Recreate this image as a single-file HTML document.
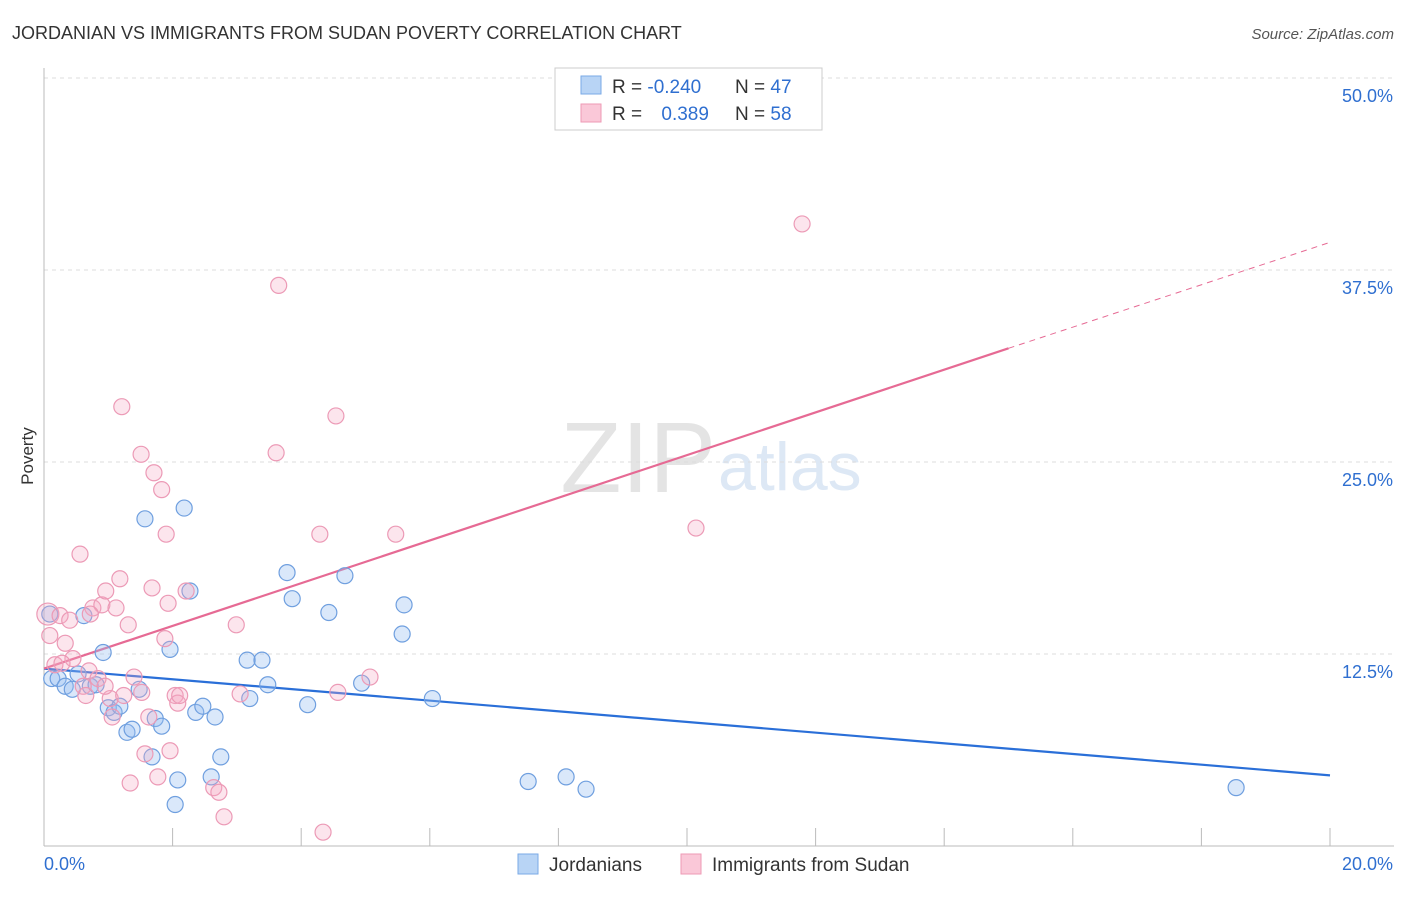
<!DOCTYPE html>
<html><head><meta charset="utf-8"><style>
body{margin:0;background:#fff;font-family:"Liberation Sans",sans-serif}
svg text{font-family:"Liberation Sans",sans-serif}
</style></head><body>
<svg id="c" width="1406" height="892" xmlns="http://www.w3.org/2000/svg">
<text x="12" y="39" font-size="18" fill="#333">JORDANIAN VS IMMIGRANTS FROM SUDAN POVERTY CORRELATION CHART</text>
<text x="1394" y="39" font-size="15" fill="#555" font-style="italic" text-anchor="end">Source: ZipAtlas.com</text>
<text x="716" y="492" font-size="100" fill="#e4e4e4" text-anchor="end" font-family="Liberation Serif">ZIP</text>
<text x="718" y="490" font-size="68" fill="#dde8f5">atlas</text>
<text x="33" y="456" font-size="17" fill="#333" transform="rotate(-90 33 456)" text-anchor="middle">Poverty</text>
<g id="grid"></g><g id="axes"></g><g id="lines"></g><g id="pts"></g>
<g>
<rect x="555" y="68" width="267" height="62" fill="#fff" stroke="#ccc"/>
<rect x="581" y="76" width="20" height="18" fill="#b8d4f5" stroke="#7aaae6"/>
<rect x="581" y="104" width="20" height="18" fill="#fac8d8" stroke="#ee9ab5"/>
<text x="612" y="93" font-size="19" fill="#333">R = <tspan fill="#2f6fd0">-0.240</tspan></text>
<text x="735" y="93" font-size="19" fill="#333">N = <tspan fill="#2f6fd0">47</tspan></text>
<text x="612" y="120" font-size="19" fill="#333">R = <tspan fill="#2f6fd0" dx="14">0.389</tspan></text>
<text x="735" y="120" font-size="19" fill="#333">N = <tspan fill="#2f6fd0">58</tspan></text>
</g>
<g>
<rect x="518" y="854" width="20" height="20" fill="#b8d4f5" stroke="#7aaae6"/>
<text x="549" y="871" font-size="19" fill="#333">Jordanians</text>
<rect x="681" y="854" width="20" height="20" fill="#fac8d8" stroke="#ee9ab5"/>
<text x="712" y="871" font-size="19" fill="#333">Immigrants from Sudan</text>
</g>
</svg>
<script>
const yTicks=[12.5,25,37.5,50];
const yTickLabels=["12.5%","25.0%","37.5%","50.0%"];
const xTickVals=[0,2,4,6,8,10,12,14,16,18,20];
const blueX=[0.12,0.22,0.33,0.44,0.53,0.62,0.72,0.81,0.92,1.0,1.09,1.18,1.29,1.37,1.48,1.57,1.68,1.73,1.83,1.96,2.08,2.04,2.18,2.27,2.36,2.47,2.6,2.66,2.75,3.16,3.2,3.39,3.48,3.78,3.86,4.1,4.43,4.68,4.94,5.57,5.6,6.04,7.53,8.12,8.43,18.54,0.09];
const blueY=[10.9,10.9,10.4,10.2,11.2,15.0,10.4,10.5,12.6,9.0,8.7,9.1,7.4,7.6,10.2,21.3,5.8,8.3,7.8,12.8,4.3,2.7,22.0,16.6,8.7,9.1,4.5,8.4,5.8,12.1,9.6,12.1,10.5,17.8,16.1,9.2,15.2,17.6,10.6,13.8,15.7,9.6,4.2,4.5,3.7,3.8,15.1];
const pinkX=[0.06,0.09,0.17,0.25,0.33,0.4,0.45,0.56,0.61,0.65,0.7,0.76,0.84,0.9,0.96,1.03,1.06,1.12,1.18,1.21,1.31,1.24,1.34,1.4,1.51,1.57,1.63,1.71,1.68,1.77,1.83,1.9,1.93,1.88,1.96,2.04,2.08,2.11,2.21,2.64,2.72,2.8,2.99,3.05,3.61,3.65,4.29,4.34,4.54,4.57,5.07,5.47,10.14,11.79,0.95,0.72,1.52,0.28];
const pinkY=[15.1,13.7,11.8,15.0,13.2,14.7,12.2,19.0,10.4,9.8,11.4,15.5,10.9,15.7,16.6,9.6,8.4,15.5,17.4,28.6,14.4,9.8,4.1,11.0,25.5,6.0,8.4,24.3,16.8,4.5,23.2,20.3,15.8,13.5,6.2,9.8,9.3,9.8,16.6,3.8,3.5,1.9,14.4,9.9,25.6,36.5,20.3,0.9,28.0,10.0,11.0,20.3,20.7,40.5,10.4,15.1,10.0,11.9];
const blueLine=[[0,11.55],[20,4.6]];
const pinkLine=[[0,11.55],[15,32.4],[20,39.3]];
const X=v=>44+v*64.3, Y=v=>846-v*15.36;
const NS="http://www.w3.org/2000/svg";
function mk(p,t,a){const e=document.createElementNS(NS,t);for(const k in a)e.setAttribute(k,a[k]);document.getElementById(p).appendChild(e);return e;}
yTicks.forEach((v,i)=>{
 const l=mk('grid','line',{x1:44,x2:1394,y1:Y(v),y2:Y(v),stroke:'#ddd','stroke-dasharray':'4,4'});
 
 
 const t=mk('grid','text',{x:1393,y:Y(v)+24,'font-size':18,fill:'#2f6fd0','text-anchor':'end'});
 t.textContent=yTickLabels[i];
 
 
});
let a=mk('axes','line',{x1:44,x2:44,y1:68,y2:846,stroke:'#bbb'});


a=mk('axes','line',{x1:44,x2:1394,y1:846,y2:846,stroke:'#bbb'});


xTickVals.forEach(v=>{const t=mk('axes','line',{x1:X(v),x2:X(v),y1:828,y2:846,stroke:'#bbb'});
 
 });
let t=mk('axes','text',{x:44,y:870,'font-size':18,fill:'#2f6fd0'});t.textContent='0.0%';


t=mk('axes','text',{x:1393,y:870,'font-size':18,fill:'#2f6fd0','text-anchor':'end'});t.textContent='20.0%';


blueX.forEach((x,i)=>{const c=mk('pts','circle',{cx:X(x),cy:Y(blueY[i]),r:8,fill:'rgba(150,190,240,0.35)',stroke:'#6f9fdf','stroke-width':1.2});
 
 });
pinkX.forEach((x,i)=>{const c=mk('pts','circle',{cx:X(x),cy:Y(pinkY[i]),r:i==0?11:8,fill:'rgba(245,170,195,0.3)',stroke:'#ec9ab6','stroke-width':1.2});
 
 });
let l=mk('lines','line',{x1:X(blueLine[0][0]),y1:Y(blueLine[0][1]),x2:X(blueLine[1][0]),y2:Y(blueLine[1][1]),stroke:'#2a6fd8','stroke-width':2.2});


l=mk('lines','line',{x1:X(pinkLine[0][0]),y1:Y(pinkLine[0][1]),x2:X(pinkLine[1][0]),y2:Y(pinkLine[1][1]),stroke:'#e66a94','stroke-width':2.2});


l=mk('lines','line',{x1:X(pinkLine[1][0]),y1:Y(pinkLine[1][1]),x2:X(pinkLine[2][0]),y2:Y(pinkLine[2][1]),stroke:'#e66a94','stroke-width':1,'stroke-dasharray':'6,5'});


</script>
</body></html>
